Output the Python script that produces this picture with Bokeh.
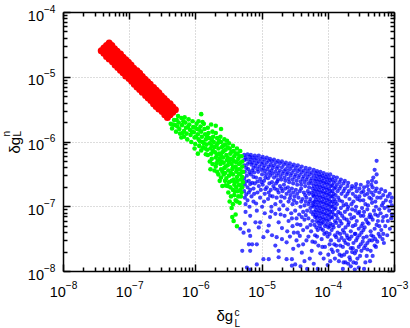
from bokeh.plotting import figure
from bokeh.models import LogAxis, FixedTicker, Label
from bokeh.embed import file_html
from bokeh.resources import INLINE

x_ticks = [1e-8, 1e-7, 1e-6, 1e-5, 1e-4, 1e-3]
y_ticks = [1e-8, 1e-7, 1e-6, 1e-5, 1e-4]

# (log10 dgLc, log10 dgLn)
red_pairs = [
(-7.31,-4.47),(-7.27,-4.51),(-7.23,-4.56),(-7.19,-4.60),(-7.14,-4.64),(-7.10,-4.69),(-7.06,-4.73),(-7.02,-4.77),(-6.98,-4.81),(-6.94,-4.86),(-6.89,-4.90),(-6.85,-4.94),(-6.81,-4.99),(-6.77,-5.03),(-6.73,-5.07),(-6.69,-5.11),(-6.64,-5.16),(-6.60,-5.20),(-6.56,-5.24),(-6.52,-5.29),(-6.48,-5.33),(-6.44,-5.37),(-6.39,-5.41),(-6.35,-5.46),(-6.31,-5.50),
(-7.35,-4.51),(-7.31,-4.55),(-7.27,-4.60),(-7.23,-4.64),(-7.18,-4.68),(-7.14,-4.73),(-7.10,-4.77),(-7.06,-4.81),(-7.02,-4.85),(-6.98,-4.90),(-6.93,-4.94),(-6.89,-4.98),(-6.85,-5.03),(-6.81,-5.07),(-6.77,-5.11),(-6.73,-5.15),(-6.68,-5.20),(-6.64,-5.24),(-6.60,-5.28),(-6.56,-5.33),(-6.52,-5.37),(-6.48,-5.41),(-6.43,-5.45),(-6.39,-5.50),(-6.35,-5.54),
(-7.39,-4.55),(-7.35,-4.59),(-7.31,-4.64),(-7.27,-4.68),(-7.22,-4.72),(-7.18,-4.77),(-7.14,-4.81),(-7.10,-4.85),(-7.06,-4.89),(-7.02,-4.94),(-6.97,-4.98),(-6.93,-5.02),(-6.89,-5.07),(-6.85,-5.11),(-6.81,-5.15),(-6.77,-5.19),(-6.72,-5.24),(-6.68,-5.28),(-6.64,-5.32),(-6.60,-5.37),(-6.56,-5.41),(-6.52,-5.45),(-6.47,-5.49),(-6.43,-5.54),(-6.39,-5.58),
(-7.43,-4.59),(-7.39,-4.63),(-7.35,-4.68),(-7.31,-4.72),(-7.26,-4.76),(-7.22,-4.81),(-7.18,-4.85),(-7.14,-4.89),(-7.10,-4.93),(-7.06,-4.98),(-7.01,-5.02),(-6.97,-5.06),(-6.93,-5.11),(-6.89,-5.15),(-6.85,-5.19),(-6.81,-5.23),(-6.76,-5.28),(-6.72,-5.32),(-6.68,-5.36),(-6.64,-5.41),(-6.60,-5.45),(-6.56,-5.49),(-6.51,-5.53),(-6.47,-5.58),(-6.43,-5.62),
]

green_pairs = [
(-6.38,-5.72),(-6.36,-5.79),(-6.33,-5.66),(-6.31,-5.74),(-6.30,-5.84),(-6.27,-5.60),(-6.26,-5.70),(-6.25,-5.80),(-6.22,-5.63),(-6.21,-5.74),(-6.20,-5.86),(-6.22,-5.93),
(-6.17,-5.62),(-6.16,-5.70),(-6.15,-5.78),(-6.14,-5.87),(-6.13,-5.96),(-6.18,-5.83),(-6.11,-5.65),(-6.10,-5.73),(-6.09,-5.81),(-6.08,-5.89),(-6.07,-6.00),(-6.05,-5.68),
(-6.04,-5.77),(-6.03,-5.85),(-6.02,-5.93),(-6.01,-6.03),(-5.99,-5.72),(-5.98,-5.80),(-5.97,-5.88),(-5.96,-5.96),(-5.95,-6.06),(-5.96,-5.68),(-5.93,-5.76),(-5.92,-5.84),
(-5.91,-5.92),(-5.90,-6.00),(-5.92,-6.13),(-5.89,-6.08),(-5.88,-5.72),(-5.87,-5.80),(-5.86,-5.88),(-5.85,-5.96),(-5.84,-6.04),(-5.85,-6.19),(-5.83,-6.12),(-5.82,-5.78),
(-5.81,-5.86),(-5.80,-5.94),(-5.79,-6.02),(-5.78,-6.10),(-5.77,-6.18),(-5.79,-6.30),(-5.76,-6.26),(-5.78,-6.42),(-5.75,-5.84),(-5.74,-5.92),(-5.73,-6.00),(-5.72,-6.08),
(-5.71,-6.16),(-5.70,-6.24),(-5.69,-6.33),(-5.72,-6.44),(-5.70,-5.86),(-5.68,-5.94),(-5.67,-6.02),(-5.66,-6.10),(-5.65,-6.18),(-5.64,-6.26),(-5.63,-6.34),(-5.62,-6.42),
(-5.66,-6.50),(-5.64,-6.60),(-5.63,-5.92),(-5.62,-6.00),(-5.61,-6.08),(-5.60,-6.16),(-5.59,-6.24),(-5.58,-6.32),(-5.57,-6.40),(-5.58,-6.50),(-5.60,-6.68),(-5.56,-6.60),
(-5.57,-5.96),(-5.56,-6.04),(-5.55,-6.12),(-5.54,-6.20),(-5.53,-6.28),(-5.52,-6.36),(-5.51,-6.44),(-5.50,-6.52),(-5.52,-6.68),(-5.51,-6.78),(-5.53,-5.98),(-5.50,-6.02),
(-5.49,-6.10),(-5.48,-6.18),(-5.47,-6.26),(-5.46,-6.34),(-5.45,-6.42),(-5.44,-6.50),(-5.46,-6.60),(-5.48,-6.70),(-5.47,-6.84),(-5.44,-6.74),(-5.49,-6.92),(-5.44,-6.06),
(-5.43,-6.14),(-5.42,-6.22),(-5.41,-6.30),(-5.40,-6.38),(-5.39,-6.46),(-5.38,-6.54),(-5.41,-6.62),(-5.39,-6.70),(-5.42,-6.82),(-5.44,-6.96),(-5.46,-7.02),(-5.38,-6.10),
(-5.37,-6.18),(-5.36,-6.26),(-5.35,-6.34),(-5.34,-6.42),(-5.33,-6.50),(-5.32,-6.58),(-5.35,-6.66),(-5.33,-6.74),(-5.36,-6.84),(-5.38,-6.92),(-5.33,-6.14),(-5.31,-6.22),
(-5.30,-6.30),(-5.30,-6.38),(-5.29,-6.46),(-5.30,-6.54),(-5.29,-6.62),(-5.30,-6.70),(-5.31,-6.78),(-5.38,-7.30),(-5.92,-5.57),(-5.62,-5.80),(-5.70,-5.75),(-5.77,-5.73),
(-5.45,-7.16),(-5.43,-7.22),(-5.40,-7.12),(-6.02,-6.10),(-6.18,-5.92),(-5.97,-6.18),
(-6.34,-5.73),(-6.29,-5.66),(-6.28,-5.76),(-6.24,-5.87),(-6.19,-5.68),(-6.12,-5.77),(-6.06,-5.84),(-6.00,-5.92),(-6.01,-5.78),(-5.94,-5.99),(-5.95,-5.81),(-5.90,-5.69),
(-5.88,-6.02),(-5.86,-6.10),(-5.83,-5.91),(-5.82,-6.20),(-5.76,-5.97),(-5.76,-6.06),(-5.74,-6.14),(-5.75,-6.34),(-5.69,-6.05),(-5.70,-6.38),(-5.68,-6.20),(-5.67,-6.29),
(-5.68,-6.46),(-5.65,-5.98),(-5.62,-6.21),(-5.61,-6.30),(-5.60,-6.46),(-5.62,-6.55),(-5.59,-6.06),(-5.58,-6.14),(-5.55,-6.38),(-5.56,-6.48),(-5.54,-6.56),(-5.55,-6.67),
(-5.52,-6.08),(-5.52,-6.24),(-5.50,-6.31),(-5.50,-6.62),(-5.47,-6.48),(-5.46,-6.15),(-5.44,-6.28),(-5.44,-6.39),(-5.43,-6.58),(-5.42,-6.66),(-5.41,-6.76),(-5.40,-6.18),
(-5.39,-6.31),(-5.38,-6.42),(-5.37,-6.60),(-5.37,-6.76),(-5.35,-6.49),(-5.34,-6.22),(-5.33,-6.32),(-5.32,-6.67),(-5.30,-6.46),(-5.32,-6.84),(-5.34,-6.94),(-5.40,-6.90),
]

blue_pairs = [
(-5.25,-7.08),(-5.18,-7.14),(-5.08,-7.06),(-5.33,-7.34),(-5.28,-7.40),(-5.18,-7.45),(-5.05,-7.32),(-5.20,-7.58),(-5.15,-7.58),(-5.08,-7.58),(-5.30,-7.68),(-5.18,-7.68),
(-4.98,-7.81),(-4.90,-7.81),(-5.08,-7.89),(-4.78,-7.47),(-4.80,-7.60),(-4.75,-7.68),(-4.75,-7.78),(-4.63,-7.81),(-4.55,-7.81),(-4.40,-7.71),(-4.53,-7.65),(-4.70,-7.50),
(-4.63,-7.55),(-4.90,-7.29),(-4.88,-7.16),(-4.75,-7.24),(-4.80,-7.11),(-4.98,-7.47),(-5.10,-7.24),(-5.03,-7.24),(-5.20,-7.37),(-4.55,-7.91),(-4.50,-7.89),(-5.18,-7.97),
(-5.23,-7.94),(-5.26,-7.26),(-4.96,-7.10),(-4.92,-7.38),(-4.85,-7.44),(-4.62,-7.38),(-4.58,-7.46),(-4.48,-7.52),(-4.45,-7.60),(-4.36,-7.84),(-4.32,-7.96),(-4.28,-7.80),
(-4.25,-7.68),(-4.42,-7.92),(-4.22,-7.88),(-4.38,-7.58),
(-5.27,-6.20),(-5.27,-6.28),(-5.27,-6.36),(-5.26,-6.46),(-5.27,-6.56),(-5.26,-6.66),(-5.27,-6.76),(-5.26,-6.86),(-5.25,-6.96),(-5.22,-6.19),(-5.23,-6.27),(-5.22,-6.34),
(-5.21,-6.42),(-5.23,-6.52),(-5.20,-6.60),(-5.22,-6.70),(-5.20,-6.78),(-5.22,-6.90),(-5.19,-7.00),(-5.17,-6.20),(-5.17,-6.27),(-5.16,-6.35),(-5.15,-6.44),(-5.17,-6.50),
(-5.15,-6.63),(-5.13,-6.72),(-5.16,-6.84),(-5.13,-6.92),(-5.11,-6.21),(-5.11,-6.28),(-5.10,-6.37),(-5.12,-6.47),(-5.09,-6.55),(-5.11,-6.64),(-5.07,-6.78),(-5.09,-6.95),
(-5.05,-6.21),(-5.05,-6.30),(-5.04,-6.38),(-5.06,-6.46),(-5.03,-6.57),(-5.05,-6.68),(-5.02,-6.74),(-5.03,-6.86),(-5.00,-7.00),(-4.99,-6.23),(-4.99,-6.31),(-4.98,-6.40),
(-5.00,-6.50),(-4.97,-6.60),(-4.99,-6.66),(-4.96,-6.80),(-4.97,-6.92),(-4.93,-6.24),(-4.93,-6.32),(-4.92,-6.42),(-4.94,-6.50),(-4.91,-6.56),(-4.93,-6.70),(-4.90,-6.78),
(-4.91,-6.88),(-4.88,-6.26),(-4.87,-6.35),(-4.86,-6.44),(-4.88,-6.52),(-4.85,-6.62),(-4.87,-6.74),(-4.84,-6.84),(-4.86,-7.00),(-4.82,-6.27),(-4.82,-6.36),(-4.80,-6.46),
(-4.82,-6.55),(-4.79,-6.64),(-4.81,-6.72),(-4.78,-6.86),(-4.80,-6.96),(-4.76,-6.29),(-4.76,-6.38),(-4.75,-6.48),(-4.76,-6.58),(-4.73,-6.68),(-4.75,-6.78),(-4.72,-6.92),
(-4.74,-7.04),(-4.70,-6.30),(-4.70,-6.39),(-4.69,-6.49),(-4.71,-6.58),(-4.67,-6.66),(-4.69,-6.76),(-4.66,-6.86),(-4.68,-6.98),(-4.66,-7.14),(-4.64,-6.32),(-4.64,-6.42),
(-4.63,-6.50),(-4.65,-6.60),(-4.61,-6.70),(-4.63,-6.80),(-4.60,-6.92),(-4.62,-7.04),(-4.60,-7.22),(-4.58,-6.33),(-4.58,-6.42),(-4.57,-6.52),(-4.59,-6.62),(-4.55,-6.72),
(-4.57,-6.82),(-4.54,-6.96),(-4.56,-7.10),(-4.54,-7.30),(-4.52,-6.35),(-4.52,-6.44),(-4.51,-6.54),(-4.53,-6.64),(-4.49,-6.74),(-4.51,-6.84),(-4.48,-6.94),(-4.50,-7.06),
(-4.48,-7.18),(-4.46,-7.40),(-4.46,-6.36),(-4.46,-6.45),(-4.45,-6.55),(-4.47,-6.66),(-4.43,-6.76),(-4.45,-6.86),(-4.42,-7.00),(-4.44,-7.12),(-4.42,-7.28),(-4.40,-6.38),
(-4.40,-6.47),(-4.39,-6.57),(-4.41,-6.66),(-4.37,-6.78),(-4.39,-6.88),(-4.36,-6.98),(-4.38,-7.08),(-4.36,-7.20),(-4.38,-7.36),(-4.34,-6.40),(-4.34,-6.49),(-4.33,-6.58),
(-4.35,-6.68),(-4.31,-6.76),(-4.33,-6.86),(-4.30,-6.96),(-4.32,-7.06),(-4.30,-7.18),(-4.32,-7.32),(-4.30,-7.46),(-4.28,-6.41),(-4.28,-6.50),(-4.27,-6.60),(-4.29,-6.70),
(-4.25,-6.78),(-4.27,-6.88),(-4.24,-6.98),(-4.26,-7.08),(-4.24,-7.22),(-4.26,-7.38),(-4.24,-7.54),
(-4.22,-6.43),(-4.22,-6.52),(-4.21,-6.60),(-4.22,-6.68),(-4.21,-6.76),(-4.22,-6.84),(-4.21,-6.92),(-4.22,-7.00),(-4.21,-7.08),(-4.20,-7.16),(-4.21,-7.28),(-4.20,-7.44),
(-4.17,-6.45),(-4.17,-6.53),(-4.16,-6.61),(-4.17,-6.69),(-4.16,-6.77),(-4.17,-6.85),(-4.16,-6.93),(-4.17,-7.01),(-4.16,-7.09),(-4.17,-7.17),(-4.15,-7.25),(-4.16,-7.36),
(-4.15,-7.60),(-4.12,-6.46),(-4.12,-6.54),(-4.11,-6.62),(-4.12,-6.70),(-4.11,-6.78),(-4.12,-6.86),(-4.11,-6.94),(-4.12,-7.02),(-4.11,-7.10),(-4.12,-7.18),(-4.10,-7.26),
(-4.11,-7.34),(-4.10,-7.50),(-4.12,-7.72),(-4.07,-6.48),(-4.07,-6.56),(-4.06,-6.64),(-4.07,-6.72),(-4.06,-6.80),(-4.07,-6.88),(-4.06,-6.96),(-4.07,-7.04),(-4.06,-7.12),
(-4.07,-7.20),(-4.05,-7.30),(-4.06,-7.42),(-4.05,-7.62),(-4.02,-6.50),(-4.02,-6.58),(-4.01,-6.66),(-4.02,-6.74),(-4.01,-6.82),(-4.02,-6.90),(-4.01,-6.98),(-4.02,-7.06),
(-4.01,-7.14),(-4.02,-7.22),(-4.00,-7.32),(-4.01,-7.46),(-4.00,-7.74),(-4.01,-7.90),(-3.97,-6.50),(-3.97,-6.59),(-3.96,-6.68),(-3.97,-6.76),(-3.96,-6.84),(-3.97,-6.92),
(-3.96,-7.00),(-3.97,-7.08),(-3.96,-7.16),(-3.97,-7.26),(-3.95,-7.36),(-3.96,-7.52),(-3.95,-7.66),(-3.92,-6.54),(-3.92,-6.63),(-3.91,-6.72),(-3.92,-6.80),(-3.91,-6.88),
(-3.92,-6.96),(-3.91,-7.04),(-3.92,-7.12),(-3.90,-7.22),(-3.92,-7.32),(-3.90,-7.44),(-3.91,-7.58),(-3.90,-7.80),
(-3.87,-6.55),(-3.87,-6.66),(-3.86,-6.76),(-3.85,-6.86),(-3.87,-6.96),(-3.85,-7.08),(-3.86,-7.18),(-3.84,-7.30),(-3.86,-7.40),(-3.84,-7.52),(-3.86,-7.68),(-3.84,-7.84),
(-3.81,-6.58),(-3.81,-6.68),(-3.80,-6.80),(-3.79,-6.92),(-3.81,-7.02),(-3.79,-7.14),(-3.80,-7.26),(-3.78,-7.36),(-3.80,-7.48),(-3.78,-7.62),(-3.80,-7.76),(-3.78,-7.96),
(-3.75,-6.60),(-3.75,-6.72),(-3.74,-6.84),(-3.73,-6.96),(-3.75,-7.08),(-3.72,-7.20),(-3.74,-7.32),(-3.72,-7.44),(-3.74,-7.56),(-3.72,-7.70),(-3.74,-7.86),(-3.70,-6.63),
(-3.69,-6.76),(-3.68,-6.88),(-3.70,-7.00),(-3.67,-7.12),(-3.69,-7.24),(-3.66,-7.38),(-3.68,-7.50),(-3.66,-7.64),(-3.68,-7.78),(-3.66,-7.92),(-3.64,-6.68),(-3.63,-6.80),
(-3.62,-6.92),(-3.64,-7.04),(-3.61,-7.16),(-3.63,-7.30),(-3.60,-7.42),(-3.62,-7.56),(-3.60,-7.72),(-3.62,-7.86),(-3.58,-6.65),(-3.57,-6.76),(-3.56,-6.88),(-3.58,-7.00),
(-3.55,-7.10),(-3.57,-7.22),(-3.54,-7.34),(-3.56,-7.48),(-3.54,-7.62),(-3.56,-7.80),(-3.54,-7.94),(-3.51,-6.66),(-3.50,-6.78),(-3.52,-6.90),(-3.49,-7.02),(-3.51,-7.14),
(-3.48,-7.26),(-3.50,-7.40),(-3.48,-7.54),(-3.50,-7.68),(-3.46,-6.70),(-3.45,-6.82),(-3.44,-6.96),(-3.46,-7.08),(-3.43,-7.20),(-3.45,-7.32),(-3.42,-7.46),(-3.44,-7.60),
(-3.42,-7.76),(-3.40,-6.62),(-3.39,-6.74),(-3.38,-6.86),(-3.40,-6.98),(-3.37,-7.12),(-3.39,-7.26),(-3.36,-7.38),(-3.38,-7.52),(-3.36,-7.68),(-3.34,-6.60),(-3.33,-6.70),
(-3.32,-6.82),(-3.34,-6.94),(-3.31,-7.06),(-3.33,-7.20),(-3.30,-7.34),(-3.32,-7.46),(-3.30,-7.60),(-3.27,-6.29),(-3.30,-6.43),(-3.27,-6.50),(-3.32,-6.55),(-3.28,-6.62),
(-3.27,-6.72),(-3.26,-6.86),(-3.28,-7.00),(-3.25,-7.14),(-3.27,-7.28),(-3.24,-7.42),(-3.26,-7.54),(-3.20,-6.73),(-3.21,-6.86),(-3.19,-6.98),(-3.21,-7.10),(-3.18,-7.22),
(-3.20,-7.36),(-3.18,-7.50),(-3.14,-6.76),(-3.13,-6.90),(-3.15,-7.02),(-3.12,-7.14),(-3.14,-7.30),(-3.11,-7.44),(-3.07,-6.80),(-3.06,-6.92),(-3.08,-7.06),(-3.05,-7.18),
(-3.07,-7.34),(-3.04,-6.98),
(-5.25,-6.24),(-5.24,-6.40),(-5.24,-6.61),(-5.24,-6.81),(-5.19,-6.23),(-5.19,-6.31),(-5.19,-6.47),(-5.18,-6.65),(-5.18,-6.74),(-5.14,-6.24),(-5.14,-6.32),(-5.13,-6.40),
(-5.13,-6.54),(-5.12,-6.80),(-5.08,-6.25),(-5.08,-6.33),(-5.07,-6.42),(-5.07,-6.61),(-5.02,-6.26),(-5.01,-6.34),(-5.01,-6.43),(-5.01,-6.62),(-4.96,-6.27),(-4.96,-6.36),
(-4.96,-6.45),(-4.95,-6.55),(-4.95,-6.73),(-4.90,-6.29),(-4.90,-6.38),(-4.89,-6.47),(-4.89,-6.64),(-4.88,-6.83),(-4.85,-6.30),(-4.84,-6.40),(-4.84,-6.49),(-4.83,-6.68),
(-4.79,-6.32),(-4.78,-6.41),(-4.78,-6.52),(-4.77,-6.61),(-4.77,-6.74),(-4.73,-6.33),(-4.73,-6.44),(-4.72,-6.53),(-4.71,-6.72),(-4.71,-6.84),(-4.67,-6.35),(-4.67,-6.45),
(-4.66,-6.55),(-4.65,-6.72),(-4.61,-6.37),(-4.61,-6.47),(-4.60,-6.57),(-4.59,-6.76),(-4.58,-6.87),(-4.55,-6.38),(-4.55,-6.48),(-4.54,-6.58),(-4.53,-6.78),(-4.52,-6.90),
(-4.49,-6.40),(-4.49,-6.50),(-4.48,-6.60),(-4.47,-6.80),(-4.43,-6.42),(-4.43,-6.51),(-4.42,-6.61),(-4.41,-6.72),(-4.41,-6.92),(-4.37,-6.44),(-4.37,-6.53),(-4.36,-6.62),
(-4.35,-6.82),(-4.34,-6.92),(-4.31,-6.45),(-4.31,-6.54),(-4.30,-6.64),(-4.29,-6.80),(-4.28,-6.92),(-4.27,-7.02),(-4.25,-6.47),(-4.25,-6.56),(-4.25,-6.64),(-4.24,-6.72),
(-4.23,-6.82),(-4.23,-6.94),(-4.23,-7.12),
(-4.19,-6.48),(-4.19,-6.57),(-4.19,-6.65),(-4.19,-6.73),(-4.19,-6.81),(-4.19,-6.89),(-4.19,-6.97),(-4.19,-7.05),(-4.19,-7.13),(-4.18,-7.22),(-4.18,-7.32),(-4.14,-6.50),
(-4.14,-6.58),(-4.14,-6.66),(-4.14,-6.74),(-4.14,-6.82),(-4.14,-6.90),(-4.14,-6.98),(-4.14,-7.06),(-4.14,-7.14),(-4.13,-7.22),(-4.13,-7.30),(-4.09,-6.52),(-4.09,-6.60),
(-4.09,-6.68),(-4.09,-6.76),(-4.09,-6.84),(-4.09,-6.92),(-4.09,-7.00),(-4.09,-7.08),(-4.09,-7.16),(-4.08,-7.24),(-4.08,-7.36),(-4.04,-6.54),(-4.04,-6.62),(-4.04,-6.70),
(-4.04,-6.78),(-4.04,-6.86),(-4.04,-6.94),(-4.04,-7.02),(-4.04,-7.10),(-4.04,-7.18),(-4.03,-7.27),(-4.03,-7.40),(-3.99,-6.55),(-3.99,-6.63),(-3.99,-6.72),(-3.99,-6.80),
(-3.99,-6.88),(-3.99,-6.96),(-3.99,-7.04),(-3.99,-7.12),(-3.99,-7.20),(-3.98,-7.30),(-3.98,-7.42),(-3.94,-6.58),(-3.94,-6.67),(-3.94,-6.76),(-3.94,-6.84),(-3.94,-6.92),
(-3.94,-7.00),(-3.94,-7.08),(-3.94,-7.17),(-3.93,-7.28),(-3.89,-6.60),(-3.89,-6.70),(-3.89,-6.82),(-3.89,-6.92),(-3.89,-7.02),(-3.88,-7.13),(-3.88,-7.25),(-3.88,-7.47),
(-3.83,-6.62),(-3.83,-6.72),(-3.83,-6.90),(-3.82,-7.10),(-3.82,-7.22),(-3.82,-7.42),(-3.82,-7.60),(-3.77,-6.64),(-3.77,-6.76),(-3.77,-6.98),(-3.76,-7.18),(-3.76,-7.40),
(-3.76,-7.52),(-3.76,-7.74),(-3.71,-6.68),(-3.71,-6.80),(-3.71,-7.04),(-3.70,-7.28),(-3.70,-7.58),(-3.70,-7.88),(-3.65,-6.72),(-3.65,-6.96),(-3.65,-7.18),(-3.65,-7.46),
(-3.64,-7.70),(-3.59,-6.70),(-3.59,-6.84),(-3.59,-7.06),(-3.59,-7.28),(-3.58,-7.52),(-3.58,-7.68),(-3.53,-6.72),(-3.53,-6.84),(-3.53,-7.08),(-3.53,-7.44),(-3.52,-7.76),
(-3.47,-6.76),(-3.47,-6.90),(-3.47,-7.14),(-3.47,-7.36),(-3.46,-7.64),(-3.41,-6.68),(-3.41,-6.80),(-3.41,-7.04),(-3.41,-7.24),(-3.41,-7.56),(-3.35,-6.66),(-3.35,-6.78),
(-3.35,-6.88),(-3.35,-7.16),(-3.35,-7.44),(-3.29,-6.76),(-3.29,-6.92),(-3.29,-7.12),(-3.29,-7.50),(-3.23,-6.78),(-3.23,-7.04),(-3.23,-7.30),(-3.17,-6.82),(-3.17,-6.94),
(-3.17,-7.16),(-3.17,-7.42),(-3.10,-6.84),(-3.10,-7.00),(-3.10,-7.22),(-3.04,-6.86),(-3.04,-7.12),
(-4.86,-7.07),(-4.72,-7.12),(-4.70,-7.33),(-4.55,-7.18),(-4.52,-7.40),(-4.47,-7.27),(-4.43,-7.45),(-4.40,-7.16),(-4.34,-7.13),(-4.33,-7.52),(-4.27,-7.28),(-4.20,-7.55),
(-4.17,-7.46),(-4.09,-7.62),(-4.07,-7.80),(-3.98,-7.58),(-3.97,-7.84),(-3.93,-7.70),(-3.88,-7.60),(-3.83,-7.74),(-3.77,-7.86),(-3.71,-7.48),(-3.67,-7.82),(-3.63,-7.64),
(-3.59,-7.42),(-3.58,-7.87),(-3.51,-7.58),(-3.47,-7.48),(-3.44,-7.86),(-3.41,-7.66),(-3.38,-7.16),(-3.34,-7.52),(-3.33,-7.76),(-3.28,-7.62),(-3.22,-7.46),(-3.16,-7.56),
(-3.46,-7.96),(-3.60,-7.97),(-4.16,-7.96),(-3.37,-7.84),(-3.50,-7.30),(-3.25,-7.22),
]

def unlog(pairs):
    return [10 ** a for a, b in pairs], [10 ** b for a, b in pairs]

x_minor = [m * t for t in x_ticks[:-1] for m in range(2, 10)]
y_minor = [m * t for t in y_ticks[:-1] for m in range(2, 10)]

p = figure(width=402, height=326, frame_width=331, frame_height=259,
           x_axis_type="log", y_axis_type="log",
           x_range=(1e-8, 1e-3), y_range=(1e-8, 1e-4),
           output_backend="svg", toolbar_location=None,
           min_border_left=63, min_border_right=0, min_border_top=12, min_border_bottom=55,
           background_fill_color="white", border_fill_color="white")

for pairs, col, sz, al in [(blue_pairs, "#0000ff", 4.2, 0.75),
                           (green_pairs, "#00ff00", 4.6, 1.0),
                           (red_pairs, "#ff0000", 7.0, 1.0)]:
    xs, ys = unlog(pairs)
    p.scatter(xs, ys, size=sz, color=col, alpha=al, line_color=None, marker="circle")

xt = FixedTicker(ticks=x_ticks, minor_ticks=x_minor)
yt = FixedTicker(ticks=y_ticks, minor_ticks=y_minor)

def style(ax, labels=True, standoff=3):
    ax.axis_line_color = "#000000"
    ax.axis_line_width = 1.5
    ax.major_tick_in = 7
    ax.major_tick_out = 0
    ax.minor_tick_in = 4
    ax.minor_tick_out = 0
    ax.major_tick_line_width = 1.5
    ax.minor_tick_line_width = 1.5
    if labels:
        ax.major_label_text_font = "Liberation Sans"
        ax.major_label_text_font_size = "14.5px"
        ax.major_label_text_color = "#000000"
        ax.major_label_standoff = standoff
    else:
        ax.major_label_text_font_size = "0px"
        ax.major_label_text_color = None
        ax.major_label_standoff = 0

p.xaxis.ticker = xt
p.yaxis.ticker = yt
style(p.xaxis[0], True, 9)
style(p.yaxis[0], True, 8)
top = LogAxis(ticker=xt)
right = LogAxis(ticker=yt)
style(top, False)
style(right, False)
p.add_layout(top, "above")
p.add_layout(right, "right")

p.xgrid.ticker = xt
p.ygrid.ticker = yt
p.grid.grid_line_color = "#bbbbbb"
p.grid.grid_line_dash = "1 2"
p.grid.grid_line_width = 1
p.outline_line_color = None

def lab(text, x, y, size, side, angle=0, baseline="alphabetic"):
    p.add_layout(Label(x=x, y=y, x_units="screen", y_units="screen", text=text, angle=angle,
                       text_font="Liberation Sans", text_font_size=size, text_color="#000000",
                       text_baseline=baseline, text_line_height=1.0), side)

lab("δg", 153, 1, "15px", "below")
lab("c\nL", 171, 10, "10px", "below", baseline="bottom")
lab("n\nL", 20, 135, "10px", "left", 1.5708, "bottom")
lab("δg", -380, 118, "15px", "right", 1.5708)

open("out.html", "w").write(file_html(p, INLINE))
